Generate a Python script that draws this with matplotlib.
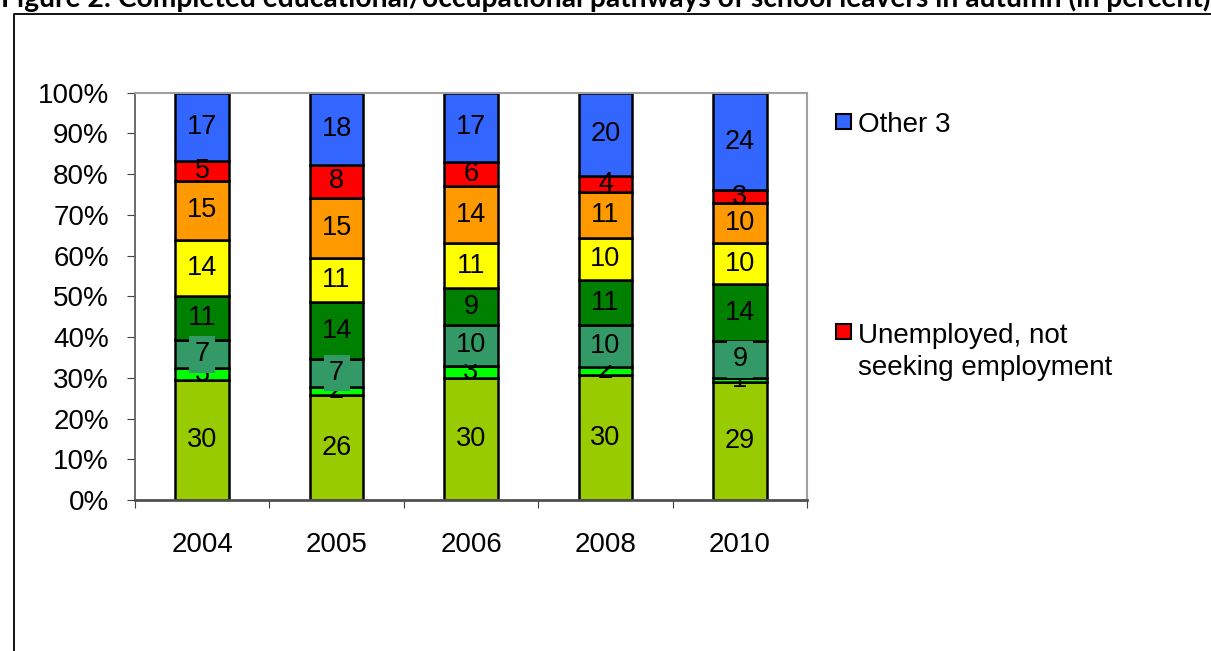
import numpy as np
import matplotlib
matplotlib.use("Agg")
import matplotlib.pyplot as plt
from matplotlib.patches import Rectangle
from matplotlib.lines import Line2D

# ---------------- data ----------------
years = ["2004", "2005", "2006", "2008", "2010"]
series_names = ["Series 1", "Series 2", "Series 3", "Series 4", "Series 5",
                "Series 6", "Unemployed, not seeking employment", "Other 3"]
s1 = [30, 26, 30, 30, 29]
s2 = [3, 2, 3, 2, 1]
s3 = [7, 7, 10, 10, 9]
s4 = [11, 14, 9, 11, 14]
s5 = [14, 11, 11, 10, 10]
s6 = [15, 15, 14, 11, 10]
unemployed = [5, 8, 6, 4, 3]
other3 = [17, 18, 17, 20, 24]
colors = ["#99CC00", "#00FF00", "#339966", "#008000", "#FFFF00",
          "#FF9900", "#FF0000", "#3366FF"]
title = "Figure 2: Completed educational/occupational pathways of school leavers in autumn (in percent)"

series = [s1, s2, s3, s4, s5, s6, unemployed, other3]

W, H = 1211, 651
fig = plt.figure(figsize=(W / 100, H / 100), dpi=100)
plt.rcParams['font.family'] = ['Liberation Sans', 'DejaVu Sans']

def fx(px):
    return px / W

def fy(py):
    return 1 - py / H

ax = fig.add_axes([fx(135), fy(500), fx(807) - fx(135), fy(92.7) - fy(500)])

vals = np.array(series, dtype=float)
pct = vals / vals.sum(axis=0) * 100
x = np.arange(len(years))
bottom = np.zeros(len(years))
FS = 19.5
for i, (row, c) in enumerate(zip(pct, colors)):
    ax.bar(x, row, 0.4, bottom=bottom, color=c, edgecolor="black",
           linewidth=1.8, zorder=2)
    for j in range(len(years)):
        kw = {}
        if i == 2:
            kw = dict(bbox=dict(boxstyle="square,pad=0.2", fc=c, ec="none"))
        ax.text(x[j], bottom[j] + row[j] / 2, str(series[i][j]), ha="center",
                va="center", fontsize=FS, color="black", zorder=3 + i, **kw)
    bottom += row

ax.set_xlim(-0.5, len(years) - 0.5)
ax.set_ylim(0, 100)
ax.set_yticks(np.arange(0, 101, 10))
ax.set_yticklabels([f"{v}%" for v in range(0, 101, 10)])
ax.set_xticks(x)
ax.set_xticklabels(years)
ax.set_xticks(np.arange(-0.5, len(years), 1), minor=True)
ax.tick_params(axis="x", which="major", length=0, pad=23, labelsize=20)
ax.tick_params(axis="x", which="minor", length=5.8, width=0.8, color="#404040", direction="out")
ax.tick_params(axis="y", length=5.8, width=0.8, color="#404040", direction="out",
               pad=13, labelsize=20)

for side in ["top", "right"]:
    ax.spines[side].set_color("#A0A0A0")
    ax.spines[side].set_linewidth(1.5)
ax.spines["left"].set_color("#606060")
ax.spines["left"].set_linewidth(1.3)
ax.spines["bottom"].set_color("#505050")
ax.spines["bottom"].set_linewidth(2.0)
ax.spines["bottom"].set_zorder(5)

# legend (only two visible entries)
leg_items = [(7, 121, [("Other 3", 132)]),
             (6, 331.5, [("Unemployed, not", 343), ("seeking employment", 375)])]
for idx, cy, lines in leg_items:
    fig.patches.append(Rectangle((fx(836), fy(cy + 7.5)), fx(15), fy(0) - fy(15),
                                 transform=fig.transFigure, fc=colors[idx],
                                 ec="black", lw=1.5))
    for txt, base in lines:
        fig.text(fx(858), fy(base), txt, fontsize=20, ha="left", va="baseline")

# outer frame
fig.lines.append(Line2D([fx(13.5), fx(13.5), 1.1], [-0.1, fy(13.5), fy(13.5)],
                        transform=fig.transFigure, color="black", lw=1.3))

# title, partly cut off at the top
t = fig.text(fx(1), fy(7.5), title, fontsize=20, fontweight="bold",
             family=["Lato", "DejaVu Sans"], ha="left", va="baseline")
fig.canvas.draw()
w = t.get_window_extent().width
t.set_fontsize(20 * 1204 / w)

fig.savefig("out.png", dpi=100)
